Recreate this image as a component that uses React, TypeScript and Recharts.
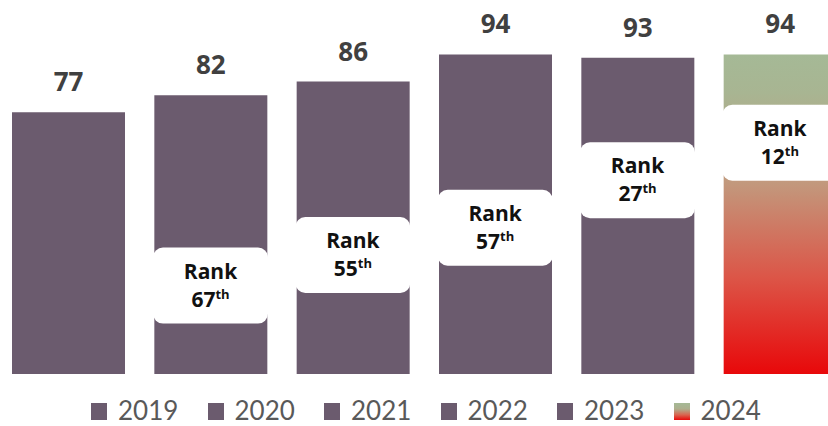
import React from 'react';
import { ComposedChart, Bar, Line, XAxis, YAxis, Cell, LabelList, Legend } from 'recharts';

// ---- data ----
const years = ['2019', '2020', '2021', '2022', '2023', '2024'];
const scores = [77, 82, 86, 94, 93, 94];
const ranks: (string | null)[] = [null, '67', '55', '57', '27', '12'];
// value (in score units) at which each "Rank" call-out is anchored
const rankAnchor: (number | null)[] = [null, 26, 35, 43, 57, 68];

const data = years.map((year, i) => ({
  year,
  score: scores[i],
  rank: ranks[i],
  rankAt: rankAnchor[i],
}));

// ---- styles ----
const BAR_COLOR = '#6B5B6E';
const BOLD_FONT = '"Open Sans", Lato, sans-serif';
const FONT = 'Lato, "Open Sans", sans-serif';
const LABEL_COLOR = '#404040';
const LEGEND_COLOR = '#595959';

const CHART_W = 868;
const CHART_H = 426;

const ValueLabel = (p: any) => {
  const { x, y, width, value } = p;
  return (
    <text
      x={Number(x) + Number(width) / 2}
      y={Number(y) - 21}
      textAnchor="middle"
      fontFamily={BOLD_FONT}
      fontWeight={700}
      fontSize={26}
      fill={LABEL_COLOR}
    >
      {value}
    </text>
  );
};

const RankBox = (p: any) => {
  const { cx, cy, index, payload } = p;
  if (payload == null || payload.rank == null || cy == null || isNaN(cy)) {
    return <g key={`rk-${index}`} />;
  }
  return (
    <g key={`rk-${index}`}>
      <rect x={cx - 57.5} y={cy - 38} width={115} height={76} rx={10} ry={10} fill="#FFFFFF" />
      <text
        x={cx}
        y={cy - 7}
        textAnchor="middle"
        fontFamily={BOLD_FONT}
        fontWeight={700}
        fontSize={21}
        fill="#111111"
      >
        Rank
      </text>
      <text
        x={cx}
        y={cy + 21}
        textAnchor="middle"
        fontFamily={BOLD_FONT}
        fontWeight={700}
        fontSize={21}
        fill="#111111"
      >
        {payload.rank}
        <tspan fontSize={13} dy={-8}>
          th
        </tspan>
      </text>
    </g>
  );
};

const LegendContent = () => (
  <div
    style={{
      position: 'relative',
      width: 828,
      height: 52,
      fontFamily: FONT,
    }}
  >
    <div
      style={{
        position: 'absolute',
        left: 91,
        top: 25.4,
        display: 'flex',
        flexDirection: 'row',
        alignItems: 'flex-start',
      }}
    >
      {years.map((y, i) => (
        <div
          key={y}
          style={{ display: 'flex', alignItems: 'flex-start', width: 116.5, flex: 'none' }}
        >
          <div
            style={{
              width: 16,
              height: 17,
              marginTop: 4,
              marginRight: 11,
              flex: 'none',
              background:
                i === years.length - 1
                  ? 'linear-gradient(#A5B996 0%, #ADAF8E 35%, #D9644F 70%, #E80A0A 100%)'
                  : BAR_COLOR,
            }}
          />
          <span
            style={{
              fontSize: 26,
              lineHeight: '22px',
              height: 22,
              color: LEGEND_COLOR,
              whiteSpace: 'nowrap',
              display: 'inline-block',
            }}
          >
            {y}
          </span>
        </div>
      ))}
    </div>
  </div>
);

export default function App() {
  return (
    <div
      style={{
        position: 'fixed',
        left: 0,
        top: 0,
        width: 828,
        height: 426,
        overflow: 'hidden',
        background: '#FFFFFF',
      }}
    >
      <div style={{ position: 'absolute', left: -8, top: 0 }}>
        <ComposedChart
          width={CHART_W}
          height={CHART_H}
          data={data}
          margin={{ top: 34, right: 9, bottom: 0, left: 5 }}
        >
          <defs>
            <linearGradient id="grad2024" x1="0" y1="0" x2="0" y2="1">
              <stop offset="0%" stopColor="#A5B996" />
              <stop offset="12%" stopColor="#A8B592" />
              <stop offset="40%" stopColor="#C2997D" />
              <stop offset="70%" stopColor="#DC5547" />
              <stop offset="100%" stopColor="#E8080A" />
            </linearGradient>
          </defs>
          <XAxis dataKey="year" hide />
          <YAxis hide domain={[0, 100]} />
          <Legend
            verticalAlign="bottom"
            content={<LegendContent />}
            wrapperStyle={{ left: 8, width: 828, bottom: 0, height: 52 }}
          />
          <Bar dataKey="score" barSize={113} isAnimationActive={false} fill={BAR_COLOR}>
            {data.map((d, i) => (
              <Cell key={d.year} fill={i === data.length - 1 ? 'url(#grad2024)' : BAR_COLOR} />
            ))}
            <LabelList dataKey="score" content={<ValueLabel />} />
          </Bar>
          <Line
            dataKey="rankAt"
            stroke="none"
            isAnimationActive={false}
            dot={RankBox}
            activeDot={false}
            legendType="none"
          />
        </ComposedChart>
      </div>
    </div>
  );
}
